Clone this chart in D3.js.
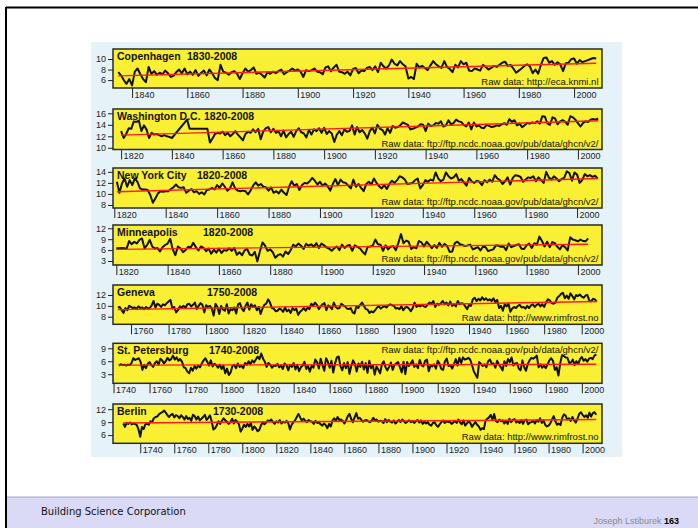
<!DOCTYPE html>
<html>
<head>
<meta charset="utf-8">
<script src="https://cdn.jsdelivr.net/npm/d3@7"></script>
<style>
  body { margin: 0; background: #fff; }
  svg { display: block; font-family: "Liberation Sans", Arial, sans-serif; }
</style>
</head>
<body>
<svg id="slide"></svg>
<script>
// ---- data (annual mean temperature, deg C) ----
const cities = ["Copenhagen", "Washington D.C.", "New York City", "Minneapolis", "Geneva", "St. Petersburg", "Berlin"];
const periods = ["1830-2008", "1820-2008", "1820-2008", "1820-2008", "1750-2008", "1740-2008", "1730-2008"];
const sources = [
  "Raw data: http://eca.knmi.nl",
  "Raw data: ftp://ftp.ncdc.noaa.gov/pub/data/ghcn/v2/",
  "Raw data: ftp://ftp.ncdc.noaa.gov/pub/data/ghcn/v2/",
  "Raw data: ftp://ftp.ncdc.noaa.gov/pub/data/ghcn/v2/",
  "Raw data: http://www.rimfrost.no",
  "Raw data: ftp://ftp.ncdc.noaa.gov/pub/data/ghcn/v2/",
  "Raw data: http://www.rimfrost.no"
];
const firstYears = [1835, 1820, 1821, 1820, 1753, 1743, 1730];

const copenhagen = [
  7.5, 6.9, 6.0, 5.3, 6.2,
  5.0, 7.6, 8.2, 7.1, 6.2, 5.6, 8.5, 7.2, 7.7, 7.0,
  7.4, 7.1, 7.8, 7.3, 6.6, 6.8, 7.5, 8.0, 7.3, 8.2,
  7.1, 7.6, 7.0, 7.9, 6.8, 7.4, 7.8, 6.9, 8.0, 7.3,
  6.4, 6.0, 8.9, 7.6, 7.4, 7.0, 7.5, 7.7, 7.2, 6.2,
  7.3, 8.2, 7.6, 7.9, 8.4, 7.2, 7.4, 7.0, 6.5, 7.5,
  7.2, 7.6, 7.3, 7.7, 8.0, 7.1, 7.5, 7.8, 8.2, 7.8,
  8.0, 7.6, 6.6, 7.9, 7.7, 7.9, 8.2, 7.6, 7.5, 7.1,
  8.4, 8.6, 7.7, 8.4, 8.9, 7.6, 7.5, 7.2, 7.6, 6.9,
  8.1, 8.3, 7.3, 7.8, 7.7, 8.3, 8.5, 7.9, 8.6, 7.5,
  9.3, 8.6, 8.2, 8.8, 9.9, 9.1, 8.8, 9.6, 9.0, 8.6,
  6.3, 6.6, 6.2, 9.1, 8.4, 8.7, 8.3, 7.9, 8.8, 9.6,
  9.0, 8.6, 8.3, 9.6, 8.5, 8.1, 7.5, 8.9, 8.4, 9.6,
  9.0, 9.3, 7.8, 7.7, 8.2, 8.0, 7.8, 8.9, 8.5, 8.0,
  8.3, 8.7, 8.5, 8.9, 9.3, 9.5, 8.7, 8.9, 8.2, 7.4,
  7.8, 8.2, 8.7, 9.0, 8.6, 7.3, 8.0, 7.2, 8.9, 10.2,
  10.3, 9.3, 9.6, 8.9, 9.4, 9.0, 7.7, 9.2, 9.3, 10.0,
  10.1, 9.1, 9.8, 9.4, 9.6, 9.8, 10.0, 10.2, 10.1
];

// null = year missing in the record; the line is drawn straight across
const washington = [
  12.9, 11.7, 12.4, 13.4, 13.3, 14.6, 14.5, 14.7, 12.9, 13.9,
  13.2, 11.7, 12.6, 12.3, 12.4, 12.2, 12.0, 12.2, 12.0, 11.9,
  11.7, null, null, null, null, null, 14.9, 13.3, null, null,
  null, null, null, null, 13.3, 10.9, 11.6, 12.4, 12.6, 12.5,
  12.8, 12.2, 12.6, 12.0, 12.4, 12.9, 12.3, 11.8, 11.3, 12.4,
  12.8, 12.6, 13.2, 12.7, 13.3, 11.5, 12.8, 13.4, 13.6, 12.7,
  13.3, 12.6, 12.9, 12.0, 13.0, 11.8, 12.4, 12.8, 11.9, 12.9,
  13.4, 12.7, 12.5, 11.8, 13.1, 12.3, 13.2, 12.9, 13.4, 12.6,
  13.5, 12.4, 12.9, 12.5, 11.0, 12.3, 12.9, 12.2, 13.2, 12.8,
  12.9, 13.9, 12.3, 13.6, 12.7, 13.1, 12.5, 11.6, 12.9, 13.5,
  12.5, 14.0, 13.3, 13.1, 12.3, 13.4, 12.6, 13.8, 13.5, 13.6,
  13.9, 14.4, 14.2, 14.0, 13.2, 13.3, 13.5, 13.7, 14.1, 14.0,
  12.9, 14.2, 13.8, 13.9, 14.3, 14.2, 14.6, 13.7, 13.9, 14.8,
  14.1, 14.3, 14.9, 14.6, 14.5, 14.0, 13.7, 14.4, 13.2, 14.4,
  13.7, 13.9, 13.5, 13.4, 14.0, 13.8, 13.6, 13.7, 13.9, 13.8,
  14.1, 14.3, 14.0, 15.0, 14.5, 14.8, 13.9, 14.2, 13.6, 13.9,
  14.3, 14.2, 14.4, 14.3, 14.6, 14.2, 15.5, 15.4, 14.2, 14.0,
  15.3, 15.1, 14.1, 14.6, 14.8, 14.5, 14.0, 15.5, 15.3, 14.9,
  14.3, 13.7, 14.3, 14.6, 14.5, 14.9, 15.0, 14.9, 15.1
];

const newYork = [
  12.2, 10.2, 11.9, 12.8, 11.3, 12.5, 11.6, 12.8, 12.2,
  11.0, 10.8, 10.8, 10.7, 9.8, 8.4, 9.2, 10.1, 10.5, 10.4,
  10.5, 10.5, 10.9, 11.2, 11.7, 11.2, 11.1, 11.2, 10.2, 10.6,
  10.9, 10.3, 10.5, 10.0, 10.3, 9.9, 10.7, 10.8, 11.1, 10.8,
  11.6, 11.1, 11.9, 11.3, 10.6, 11.0, 12.1, 11.0, 10.6, 10.5,
  10.6, 10.5, 9.9, 10.6, 11.5, 12.1, 11.5, 11.8, 11.3, 11.2,
  10.6, 11.2, 10.2, 10.5, 10.1, 10.8, 10.2, 9.8, 11.3, 12.3,
  11.5, 11.8, 10.7, 11.6, 12.0, 11.9, 12.3, 12.9, 12.4, 11.7,
  12.2, 11.5, 11.9, 11.4, 10.6, 11.8, 12.7, 11.6, 12.6, 12.1,
  12.0, 11.5, 11.0, 12.6, 11.3, 11.8, 11.1, 10.5, 11.8, 12.2,
  11.7, 12.8, 12.0, 11.4, 11.0, 11.6, 10.9, 11.8, 12.4, 12.0,
  12.5, 13.2, 13.0, 12.6, 11.8, 11.9, 12.0, 12.5, 12.8, 11.0,
  11.6, 12.5, 12.2, 12.6, 12.4, 13.9, 12.8, 12.3, 12.6, 13.9,
  13.2, 12.8, 13.0, 13.6, 12.4, 12.7, 12.1, 11.5, 12.9, 12.3,
  12.0, 12.4, 12.2, 11.6, 12.5, 12.1, 12.6, 12.2, 13.4, 12.8,
  12.5, 11.8, 12.3, 13.0, 11.7, 12.9, 13.4, 13.3, 13.1, 12.2,
  12.6, 13.0, 12.9, 13.2, 12.3, 13.0, 12.5, 12.0, 14.0, 13.0,
  12.6, 13.2, 12.8, 12.3, 12.7, 12.9, 14.1, 13.8, 12.4, 13.9,
  13.5, 12.0, 12.5, 13.6, 13.2, 13.4, 13.1, 13.3, 12.8
];

const minneapolis = [
  6.5, 6.5, 6.6, 6.5, 6.4, 8.5, 7.6, 8.3, 7.8, 8.8,
  9.2, 6.5, 7.4, 8.8, 7.0, 6.4, 6.6, 5.6, 6.8, 7.4,
  7.8, 9.1, 6.2, 4.6, 7.0, 6.5, 5.4, 6.0, 6.9, 6.7,
  8.0, 6.8, 5.9, 7.0, 6.6, 5.7, 6.4, 5.0, 6.1, 5.3,
  6.4, 5.2, 6.0, 5.8, 6.5, 5.8, 6.6, 4.7, 5.4, 4.6,
  5.9, 6.3, 4.8, 4.5, 5.5, 2.9, 5.7, 8.1, 7.2, 5.8,
  6.2, 5.4, 3.9, 4.6, 4.9, 4.2, 5.6, 4.9, 6.0, 7.5,
  7.0, 7.8, 7.2, 6.3, 7.7, 7.2, 7.6, 6.9, 7.9, 6.6,
  7.8, 7.3, 6.7, 6.4, 5.8, 6.5, 7.0, 6.0, 7.5, 6.6,
  7.2, 7.4, 5.8, 7.3, 6.9, 6.5, 5.6, 4.8, 6.9, 7.0,
  7.2, 8.9, 7.6, 7.5, 5.8, 7.3, 6.2, 6.9, 7.1, 6.0,
  8.0, 10.4, 7.9, 8.6, 8.3, 6.3, 6.8, 6.5, 8.5, 8.1,
  7.0, 8.3, 7.5, 6.5, 7.4, 6.6, 8.0, 6.9, 7.7, 7.1,
  5.5, 5.6, 7.9, 8.3, 7.6, 7.4, 7.1, 7.3, 7.5, 6.2,
  6.5, 6.8, 5.9, 7.0, 6.8, 5.7, 6.0, 6.2, 7.3, 7.2,
  6.9, 7.0, 6.0, 7.8, 6.8, 7.1, 7.4, 7.6, 6.4, 6.3,
  7.3, 7.8, 6.6, 7.9, 7.5, 9.7, 8.5, 7.0, 8.3, 6.8,
  8.2, 7.9, 6.9, 6.2, 7.4, 6.8, 5.9, 9.5, 8.9, 8.7,
  8.4, 8.9, 8.5, 8.4, 9.2
];

const geneva = [
  9.7, 9.8, 9.2, 8.7, 9.6, 9.2, 10.0,
  9.8, 9.6, 9.7, 9.5, 9.9, 9.6, 9.7, 9.4, 9.8, 9.5,
  9.6, 10.1, 10.9, 9.7, 10.4, 10.2, 9.8, 10.3, 10.1, 10.5,
  10.8, 11.1, 9.5, 9.8, 8.8, 9.2, 9.9, 9.7, 10.0, 9.6,
  10.3, 10.4, 9.9, 10.2, 10.6, 9.4, 10.0, 10.5, 10.2, 8.8,
  10.1, 9.8, 10.0, 9.5, 8.2, 10.4, 9.8, 8.5, 10.0, 9.3,
  9.1, 10.3, 8.6, 9.4, 9.2, 9.7, 8.6, 10.3, 10.5, 9.5,
  9.0, 10.0, 10.6, 9.3, 10.3, 9.8, 10.1, 9.2, 9.8, 8.5,
  9.5, 10.2, 10.4, 11.2, 10.6, 9.6, 9.5, 9.0, 9.1, 9.5,
  9.3, 8.9, 9.7, 9.0, 9.3, 8.7, 9.6, 9.2, 9.5, 8.3,
  8.9, 9.2, 9.6, 9.1, 9.7, 9.4, 10.4, 10.0, 10.6, 10.2,
  9.4, 9.9, 10.3, 10.5, 9.2, 10.1, 9.8, 9.4, 10.6, 9.8,
  9.5, 9.6, 10.4, 10.1, 9.9, 9.5, 9.4, 9.6, 8.8, 8.6,
  9.9, 9.6, 10.2, 10.6, 10.0, 9.4, 9.3, 8.7, 9.0, 8.8,
  9.2, 9.7, 9.9, 9.5, 9.8, 9.9, 9.7, 10.1, 10.3, 10.1,
  10.0, 9.5, 9.6, 9.4, 9.9, 9.2, 9.7, 9.8, 9.5, 9.0,
  9.6, 10.6, 9.8, 10.1, 9.9, 10.2, 9.9, 9.8, 10.3, 10.6,
  10.4, 10.9, 9.8, 10.4, 10.2, 10.5, 10.9, 10.3, 10.6, 10.1,
  10.8, 10.0, 10.3, 9.9, 10.9, 10.3, 10.5, 10.4, 9.9, 9.4,
  10.2, 10.0, 11.2, 11.5, 10.9, 11.3, 11.0, 11.6, 11.1, 11.4,
  11.0, 11.2, 10.9, 11.4, 10.7, 11.1, 9.6, 10.0, 9.1, 10.3,
  9.9, 10.4, 8.9, 9.5, 9.8, 9.6, 10.0, 10.2, 9.7, 9.8,
  9.5, 10.0, 9.6, 10.1, 10.3, 9.8, 10.2, 10.4, 9.9, 10.3,
  9.8, 10.6, 11.2, 11.0, 10.5, 10.4, 10.6, 11.5, 11.8, 12.2,
  12.4, 11.4, 11.9, 11.3, 12.3, 11.8, 11.2, 12.0, 11.8, 12.1,
  11.7, 11.5, 11.9, 12.0, 11.0, 10.8, 11.3, 11.2, 10.8
];

const stPetersburg = [
  5.0, 5.3, 5.1, 5.2, 5.0, 5.2, 5.1,
  5.6, 6.7, 6.3, 6.5, 6.7, 5.9, 4.0, 5.2, 4.4, 5.4,
  5.8, 5.1, 4.7, 5.6, 6.0, 5.2, 6.6, 6.2, 5.5, 6.0,
  6.8, 6.2, 6.5, 7.3, 6.4, 6.9, 6.1, 6.5, 5.9, 4.6,
  4.4, 3.6, 3.2, 4.5, 3.8, 4.9, 4.3, 5.0, 4.6, 5.5,
  6.2, 6.7, 5.9, 5.0, 6.2, 4.8, 5.4, 5.1, 4.5, 5.2,
  4.2, 5.0, 3.2, 4.3, 2.8, 3.4, 4.9, 5.2, 4.4, 5.5,
  4.7, 5.0, 4.4, 5.6, 5.2, 6.0, 5.3, 6.2, 5.7, 6.4,
  7.1, 6.5, 7.8, 6.6, 5.9, 4.7, 5.6, 5.2, 4.5, 5.0,
  4.9, 5.4, 4.6, 5.0, 4.2, 5.5, 5.1, 3.9, 5.2, 4.7,
  5.6, 4.1, 5.2, 3.7, 4.6, 5.0, 5.9, 4.2, 4.9, 3.6,
  5.0, 4.5, 6.4, 5.8, 4.3, 6.6, 5.1, 3.8, 6.7, 5.9,
  4.5, 6.1, 3.4, 5.5, 6.9, 7.1, 4.8, 3.9, 5.6, 4.4,
  5.8, 3.1, 4.9, 6.2, 5.4, 3.6, 5.5, 4.7, 5.9, 4.1,
  5.6, 3.3, 6.1, 4.4, 5.0, 2.9, 4.8, 4.1, 3.2, 5.3,
  6.0, 4.6, 3.9, 4.7, 5.7, 4.0, 5.2, 5.5, 5.8, 4.6,
  3.4, 5.9, 3.0, 5.8, 4.9, 5.5, 6.2, 4.7, 5.3, 4.4,
  6.3, 5.1, 4.8, 6.1, 6.4, 3.7, 5.0, 4.8, 5.3, 4.3,
  6.1, 5.4, 4.2, 4.0, 6.0, 6.6, 4.9, 5.1, 4.3, 5.3,
  6.5, 5.0, 6.8, 5.6, 6.9, 6.4, 6.5, 6.8, 6.4, 5.2,
  3.7, 2.9, 2.2, 5.8, 5.4, 4.9, 5.3, 4.6, 6.0, 6.4,
  5.4, 5.5, 4.5, 6.1, 5.2, 4.6, 3.9, 6.0, 4.9, 6.5,
  5.8, 6.9, 5.0, 5.5, 5.6, 4.3, 3.9, 6.2, 4.6, 3.8,
  5.4, 6.2, 6.8, 6.6, 6.9, 7.3, 4.6, 5.3, 4.5, 5.0,
  4.4, 5.3, 6.2, 6.7, 6.1, 4.0, 4.6, 2.7, 5.5, 7.4,
  7.2, 6.9, 6.8, 5.6, 5.7, 6.4, 5.1, 6.0, 5.4, 6.5,
  7.0, 6.1, 6.5, 5.9, 6.6, 6.8, 6.5, 7.3, 7.6
];

const berlin = [
  8.7, 7.9, 8.8, 8.6, 8.9, 8.5, 8.7, 8.6, 8.3, 7.3,
  5.6, 7.9, 7.4, 8.5, 8.6, 8.4, 9.2, 9.0, 9.9, 10.2,
  10.3, 10.8, 11.1, 11.3, 11.7, 11.2, 10.6, 10.2, 10.7, 10.9,
  10.1, 10.6, 10.4, 9.9, 10.6, 10.2, 9.6, 10.4, 9.7, 10.0,
  9.3, 10.7, 10.4, 9.6, 10.3, 9.4, 9.8, 10.2, 10.7, 9.5,
  10.0, 10.6, 9.2, 7.3, 7.6, 8.3, 9.2, 8.6, 9.3, 9.9,
  9.4, 9.1, 8.6, 9.0, 9.8, 8.7, 9.5, 9.1, 8.5, 6.8,
  7.5, 8.4, 7.9, 8.6, 8.0, 8.8, 7.2, 8.0, 7.6, 6.9,
  7.2, 8.3, 9.0, 8.5, 8.9, 9.4, 9.2, 9.6, 9.0, 8.6,
  9.2, 8.9, 9.5, 8.7, 9.1, 8.9, 9.3, 8.8, 7.3, 8.4,
  9.0, 9.4, 10.2, 10.9, 10.1, 9.4, 9.8, 9.3, 9.0, 9.5,
  9.2, 9.1, 8.6, 9.3, 8.8, 9.0, 8.5, 8.2, 8.7, 8.3,
  7.6, 8.6, 8.0, 9.4, 9.9, 9.3, 10.2, 9.5, 9.6, 9.3,
  8.7, 9.4, 10.4, 10.9, 9.7, 9.0, 10.1, 11.1, 9.8, 10.0,
  9.5, 9.1, 9.4, 9.5, 9.2, 9.0, 9.3, 10.0, 9.4, 9.6,
  9.1, 9.3, 9.2, 8.8, 9.7, 9.0, 9.5, 9.1, 8.9, 9.4,
  8.7, 9.1, 9.5, 9.0, 9.6, 9.2, 8.8, 9.1, 9.4, 9.0,
  9.3, 8.8, 9.2, 9.5, 8.9, 9.4, 8.6, 9.1, 8.7, 9.0,
  8.4, 8.2, 8.8, 9.0, 8.3, 7.9, 8.5, 9.0, 9.4, 8.8,
  9.2, 9.0, 9.1, 8.6, 8.9, 9.3, 8.8, 9.6, 8.9, 8.5,
  9.4, 8.2, 8.7, 9.2, 8.8, 7.9, 8.5, 9.0, 8.4, 8.0,
  7.2, 7.6, 7.4, 9.4, 9.8, 10.1, 10.7, 9.5, 10.9, 9.3,
  9.0, 9.6, 9.2, 9.4, 8.7, 9.3, 8.6, 9.8, 9.0, 9.5,
  9.7, 8.9, 9.2, 8.8, 9.5, 8.6, 9.4, 9.6, 8.5, 8.9,
  9.0, 9.3, 8.7, 9.5, 9.1, 9.9, 8.8, 9.4, 8.4, 8.0,
  8.2, 8.7, 9.6, 10.4, 9.2, 8.4, 8.7, 8.3, 10.0, 10.8,
  10.5, 9.6, 9.9, 9.3, 10.2, 9.4, 8.9, 9.8, 10.9, 11.3,
  10.7, 10.2, 10.6, 10.0, 11.2, 10.3, 11.1, 11.3, 10.7
];

const series = [copenhagen, washington, newYork, minneapolis, geneva, stPetersburg, berlin];

// linear trend (red line), value at first and last year
const trendStart = [6.8, 12.2, 10.4, 6.2, 9.3, 5.1, 8.8];
const trendEnd = [9.2, 14.7, 12.8, 7.6, 10.8, 5.3, 9.6];

const xTicks = [
  [1840, 1860, 1880, 1900, 1920, 1940, 1960, 1980, 2000],
  [1820, 1840, 1860, 1880, 1900, 1920, 1940, 1960, 1980, 2000],
  [1820, 1840, 1860, 1880, 1900, 1920, 1940, 1960, 1980, 2000],
  [1820, 1840, 1860, 1880, 1900, 1920, 1940, 1960, 1980, 2000],
  [1760, 1780, 1800, 1820, 1840, 1860, 1880, 1900, 1920, 1940, 1960, 1980, 2000],
  [1740, 1760, 1780, 1800, 1820, 1840, 1860, 1880, 1900, 1920, 1940, 1960, 1980, 2000],
  [1740, 1760, 1780, 1800, 1820, 1840, 1860, 1880, 1900, 1920, 1940, 1960, 1980, 2000]
];
const yTicks = [[6, 8, 10], [10, 12, 14, 16], [8, 10, 12, 14], [3, 6, 9, 12], [8, 10, 12], [3, 6, 9], [6, 9, 12]];
const xDomains = [[1833.1, 2010.1], [1816.8, 2009.5], [1819.5, 2009.7], [1818.7, 2009.4], [1750.4, 2010.8], [1739.7, 2011.2], [1724, 2011.4]];
const yDomains = [[4.5, 11.9], [9.7, 16.75], [7.45, 14.7], [1.9, 12.9], [6.6, 13.85], [0.9, 10.15], [4.1, 13.2]];

// ---- layout ----
const W = 698, H = 528;
const boxLeft = 113, boxRight = 602;
const panelTop = [49, 109, 168, 225, 285, 343.3, 404];
const panelBottom = [88, 149.5, 208, 265, 324.3, 383.3, 443.3];
const periodX = [187, 204, 197, 203, 207, 209, 213];
const sourceAtTop = [false, false, false, false, false, true, false];

const svg = d3.select("#slide").attr("width", W).attr("height", H);

svg.append("rect").attr("width", W).attr("height", H).attr("fill", "#fff");

// photo background behind the panels
svg.append("rect")
  .attr("x", 91).attr("y", 42).attr("width", 531).attr("height", 415)
  .attr("fill", "#e5f3f8");

series.forEach((values, i) => {
  const top = panelTop[i], bottom = panelBottom[i];
  const x = d3.scaleLinear().domain(xDomains[i]).range([boxLeft, boxRight]);
  const y = d3.scaleLinear().domain(yDomains[i]).range([bottom, top]);

  const g = svg.append("g");

  g.append("rect")
    .attr("x", boxLeft).attr("y", top)
    .attr("width", boxRight - boxLeft).attr("height", bottom - top)
    .attr("fill", "#f9ef33")
    .attr("stroke", "#2a2a2a").attr("stroke-width", 1.5);

  // x axis
  const xa = g.append("g")
    .attr("transform", `translate(0,${bottom})`)
    .call(d3.axisBottom(x).tickValues(xTicks[i]).tickSize(10).tickFormat(d3.format("d")));
  xa.select(".domain").remove();
  xa.selectAll("line").attr("stroke", "#222").attr("stroke-width", 1);
  xa.selectAll("text")
    .attr("x", 2).attr("y", 9.5).attr("dy", null)
    .attr("text-anchor", "start")
    .attr("font-size", 9).attr("fill", "#222");

  // y axis
  const ya = g.append("g")
    .attr("transform", `translate(${boxLeft},0)`)
    .call(d3.axisLeft(y).tickValues(yTicks[i]).tickSize(5).tickPadding(2).tickFormat(d3.format("d")));
  ya.select(".domain").remove();
  ya.selectAll("line").attr("stroke", "#222");
  ya.selectAll("text").attr("font-size", 9).attr("fill", "#222");

  const pts = values
    .map((v, k) => ({ year: firstYears[i] + k, value: v }))
    .filter(d => d.value !== null);

  const line = d3.line().x(d => x(d.year)).y(d => y(d.value));

  g.append("path")
    .datum(pts)
    .attr("d", line)
    .attr("fill", "none")
    .attr("stroke", "#111")
    .attr("stroke-width", 2)
    .attr("stroke-linejoin", "round");

  const lastYear = pts[pts.length - 1].year;
  g.append("path")
    .datum([{ year: pts[0].year, value: trendStart[i] }, { year: lastYear, value: trendEnd[i] }])
    .attr("d", line)
    .attr("stroke", "#ff1a1a")
    .attr("stroke-width", 1.4);

  g.append("text")
    .attr("x", boxLeft + 4).attr("y", top + 10.5)
    .attr("font-size", 10.5).attr("font-weight", "bold").attr("fill", "#111")
    .text(cities[i]);
  g.append("text")
    .attr("x", periodX[i]).attr("y", top + 10.5)
    .attr("font-size", 10.5).attr("font-weight", "bold").attr("fill", "#111")
    .text(periods[i]);

  g.append("text")
    .attr("x", boxRight - 3.5)
    .attr("y", sourceAtTop[i] ? top + 9.5 : bottom - 3)
    .attr("text-anchor", "end")
    .attr("font-size", 9.5).attr("fill", "#111")
    .text(sources[i]);
});

// slide frame and footer
svg.append("line").attr("x1", 6).attr("y1", 7.5).attr("x2", W).attr("y2", 7.5)
  .attr("stroke", "#000").attr("stroke-width", 2);
svg.append("line").attr("x1", 6).attr("y1", 7).attr("x2", 6).attr("y2", H)
  .attr("stroke", "#000").attr("stroke-width", 2);

svg.append("rect").attr("x", 7).attr("y", 497).attr("width", W - 7).attr("height", H - 497)
  .attr("fill", "#dadaf6");
svg.append("line").attr("x1", 7).attr("y1", 497).attr("x2", W).attr("y2", 497)
  .attr("stroke", "#a4a4cf").attr("stroke-width", 1);

svg.append("text")
  .attr("x", 41).attr("y", 515)
  .attr("font-family", "DejaVu Sans, Verdana, sans-serif")
  .attr("font-size", 10).attr("fill", "#111")
  .text("Building Science Corporation");

const foot = svg.append("text")
  .attr("x", 679).attr("y", 524)
  .attr("text-anchor", "end")
  .attr("font-size", 9);
foot.append("tspan").attr("fill", "#8a8a8a").text("Joseph Lstiburek ");
foot.append("tspan").attr("fill", "#000").attr("font-weight", "bold").text("163");
</script>
</body>
</html>
